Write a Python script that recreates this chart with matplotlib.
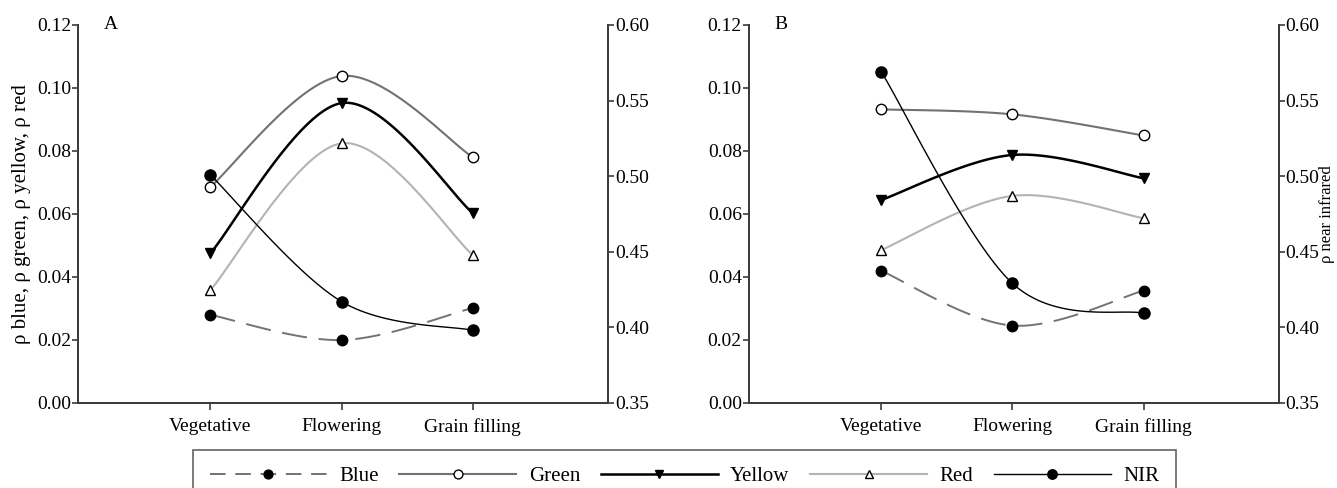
import numpy as np
import matplotlib
matplotlib.use("Agg")
from matplotlib import pyplot as plt
from matplotlib.lines import Line2D

plt.rcParams['font.family'] = ['Liberation Serif', 'DejaVu Serif']
plt.rcParams['font.size'] = 14

# growth stages on the x axis
stages = ["Vegetative", "Flowering", "Grain filling"]

# panel A reflectance (left axis) and NIR (right axis)
blue_a = [0.0279, 0.0199, 0.0301]
green_a = [0.0686, 0.1038, 0.0780]
yellow_a = [0.0475, 0.0952, 0.0602]
red_a = [0.0358, 0.0824, 0.0469]
nir_a = [0.5007, 0.4169, 0.3979]

# panel B
blue_b = [0.0419, 0.0245, 0.0356]
green_b = [0.0932, 0.0916, 0.0849]
yellow_b = [0.0644, 0.0787, 0.0713]
red_b = [0.0485, 0.0657, 0.0586]
nir_b = [0.5691, 0.4290, 0.4092]

left_ticks = [0.00, 0.02, 0.04, 0.06, 0.08, 0.10, 0.12]
right_ticks = [0.35, 0.40, 0.45, 0.50, 0.55, 0.60]

spine_col = "#3c3c3c"


def smooth(xs, ys, n=40):
    # catmull-rom style bezier, like a spreadsheet "smoothed line"
    px = [xs[0]] + list(xs) + [xs[-1]]
    py = [ys[0]] + list(ys) + [ys[-1]]
    outx, outy = [], []
    t = np.linspace(0, 1, n)
    for i in range(1, len(px) - 2):
        x0, y0 = px[i], py[i]
        x3, y3 = px[i + 1], py[i + 1]
        x1 = x0 + (px[i + 1] - px[i - 1]) / 6
        y1 = y0 + (py[i + 1] - py[i - 1]) / 6
        x2 = x3 - (px[i + 2] - px[i]) / 6
        y2 = y3 - (py[i + 2] - py[i]) / 6
        bx = (1-t)**3*x0 + 3*(1-t)**2*t*x1 + 3*(1-t)*t**2*x2 + t**3*x3
        by = (1-t)**3*y0 + 3*(1-t)**2*t*y1 + 3*(1-t)*t**2*y2 + t**3*y3
        outx.extend(bx)
        outy.extend(by)
    return outx, outy


styles = {
    "Blue": dict(color="#737373", lw=1.4, dashes=(13, 6), marker="o", mfc="black", mec="black", ms=7.5),
    "Green": dict(color="#727272", lw=1.5, dashes=None, marker="o", mfc="white", mec="black", ms=7.5),
    "Yellow": dict(color="black", lw=1.8, dashes=None, marker="v", mfc="black", mec="black", ms=7.5),
    "Red": dict(color="#b3b3b3", lw=1.5, dashes=None, marker="^", mfc="white", mec="black", ms=7),
    "NIR": dict(color="black", lw=1.0, dashes=None, marker="o", mfc="black", mec="black", ms=8),
}


def draw_series(ax, ys, name):
    s = styles[name]
    xs = np.arange(len(stages))
    sx, sy = smooth(xs, ys)
    line, = ax.plot(sx, sy, color=s["color"], lw=s["lw"], zorder=2)
    if s["dashes"]:
        line.set_dashes(s["dashes"])
    ax.plot(xs, ys, ls="none", marker=s["marker"], mfc=s["mfc"], mec=s["mec"],
            ms=s["ms"], mew=1.0, zorder=3)


def style_axes(ax, ax2):
    for a in (ax, ax2):
        a.spines["top"].set_visible(False)
        for sp in ("left", "right", "bottom"):
            a.spines[sp].set_color(spine_col)
            a.spines[sp].set_linewidth(1.4)
    ax.set_xlim(-1.01, 3.03)
    ax.set_ylim(0, 0.12)
    ax.set_yticks(left_ticks)
    ax.set_yticklabels(["%.2f" % v for v in left_ticks])
    ax.set_xticks(range(len(stages)))
    ax.set_xticklabels(stages)
    ax.tick_params(axis="y", length=4, width=1.2, pad=1, color=spine_col)
    ax.tick_params(axis="x", length=5, width=1.2, pad=6, color=spine_col)
    ax2.set_ylim(0.35, 0.60)
    ax2.set_yticks(right_ticks)
    ax2.set_yticklabels(["%.2f" % v for v in right_ticks])
    ax2.tick_params(axis="y", length=4, width=1.2, pad=1, color=spine_col)


fig = plt.figure(figsize=(13.37, 4.88), dpi=100)
axA = fig.add_axes([0.0583, 0.1748, 0.3964, 0.774])
axB = fig.add_axes([0.5600, 0.1748, 0.3964, 0.774])
axA2 = axA.twinx()
axB2 = axB.twinx()

for ax, ax2, data, letter in [
    (axA, axA2, (blue_a, green_a, yellow_a, red_a, nir_a), "A"),
    (axB, axB2, (blue_b, green_b, yellow_b, red_b, nir_b), "B"),
]:
    style_axes(ax, ax2)
    draw_series(ax, data[0], "Blue")
    draw_series(ax, data[1], "Green")
    draw_series(ax, data[2], "Yellow")
    draw_series(ax, data[3], "Red")
    draw_series(ax2, data[4], "NIR")
    ax.text(0.048, 1.0, letter, transform=ax.transAxes, ha="left", va="center", fontsize=14)

axA.set_ylabel(r"ρ blue, ρ green, ρ yellow, ρ red", fontsize=15, labelpad=4)
axB2.set_ylabel("ρ near infrared", fontsize=12)
axB2.yaxis.set_label_coords(1.0765, 0.5)

handles = []
for name in ["Blue", "Green", "Yellow", "Red", "NIR"]:
    s = styles[name]
    h = Line2D([], [], color=s["color"], lw=s["lw"], marker=s["marker"], mfc=s["mfc"],
               mec=s["mec"], ms=s["ms"] * 0.85)
    if s["dashes"]:
        h.set_dashes((8, 5))
    handles.append(h)

leg = fig.legend(handles, ["Blue", "Green", "Yellow", "Red", "NIR"], loc="upper center",
                 bbox_to_anchor=(0.512, 0.100), ncol=5, frameon=True, fancybox=False,
                 edgecolor="#3c3c3c", fontsize=15, handlelength=5.6, handletextpad=0.6,
                 columnspacing=1.0, borderpad=0.8, numpoints=1)
leg.get_frame().set_linewidth(1.2)

fig.savefig("out.png", dpi=100)
